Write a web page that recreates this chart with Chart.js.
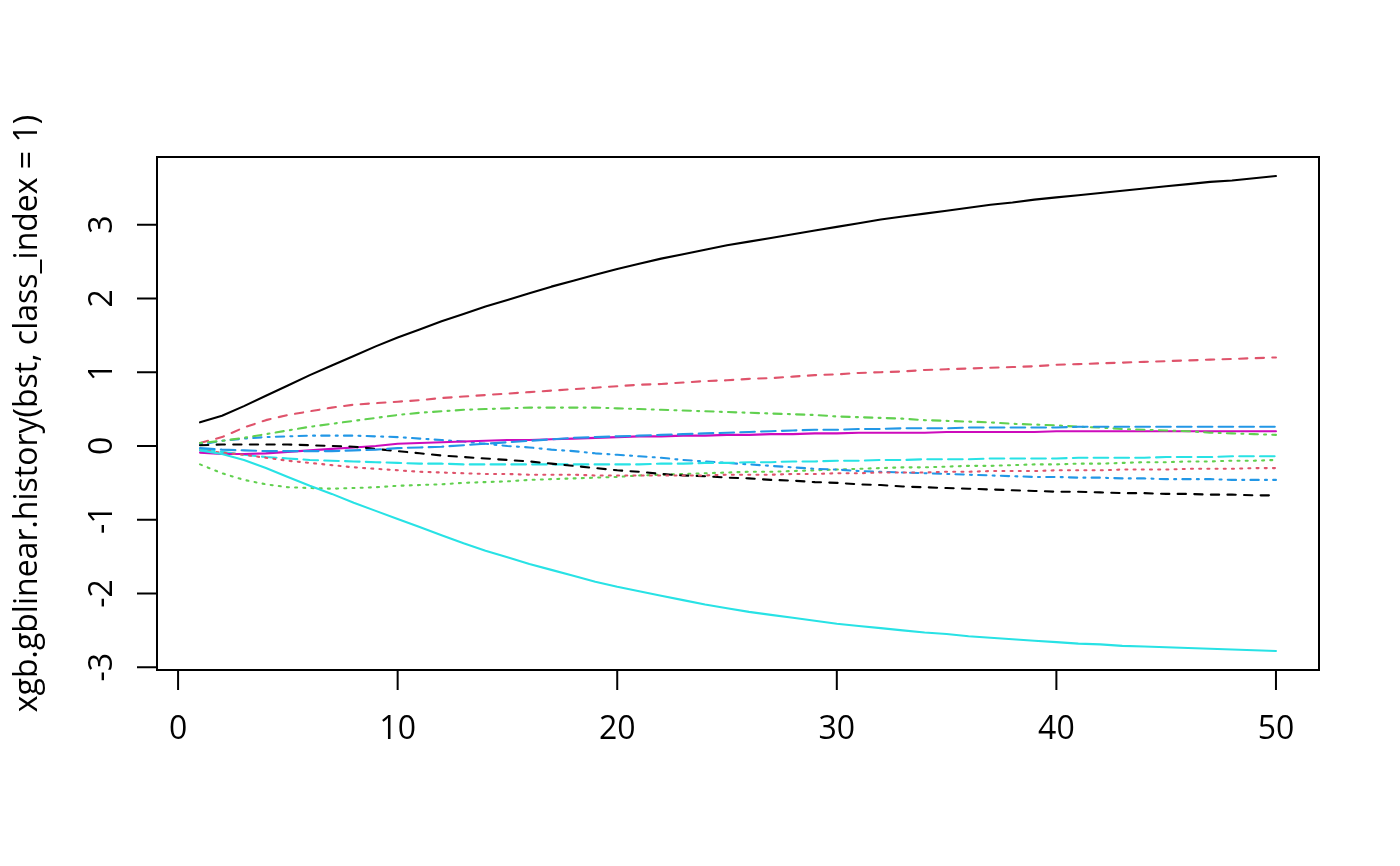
<!DOCTYPE html>
<html>
<head>
<meta charset="utf-8">
<script src="https://cdn.jsdelivr.net/npm/chart.js@4.4.1/dist/chart.umd.min.js"></script>
<style>
  html, body { margin: 0; padding: 0; background: #ffffff; }
  canvas { display: block; }
</style>
</head>
<body>
<canvas id="historyChart" width="1400" height="866"></canvas>
<script>
// boosting iteration
const iterations = [1,2,3,4,5,6,7,8,9,10,11,12,13,14,15,16,17,18,19,20,21,22,23,24,25,
    26,27,28,29,30,31,32,33,34,35,36,37,38,39,40,41,42,43,44,45,46,47,48,49,50];

// coefficient paths, one column of the history matrix each
const coef01 = [0.32,0.41,0.54,0.68,0.82,0.96,1.09,1.22,1.35,1.47,1.58,1.69,1.79,1.89,1.98,2.07,2.16,2.24,2.32,2.40,
    2.47,2.54,2.60,2.66,2.72,2.77,2.82,2.87,2.92,2.97,3.02,3.07,3.11,3.15,3.19,3.23,3.27,3.30,3.34,3.37,
    3.40,3.43,3.46,3.49,3.52,3.55,3.58,3.60,3.63,3.66];
const coef02 = [0.04,0.12,0.25,0.35,0.42,0.47,0.52,0.56,0.58,0.60,0.62,0.65,0.67,0.69,0.71,0.73,0.75,0.77,0.79,0.81,
    0.83,0.84,0.86,0.88,0.89,0.91,0.92,0.94,0.96,0.97,0.99,1.00,1.01,1.03,1.04,1.05,1.06,1.07,1.08,1.10,
    1.11,1.12,1.13,1.14,1.15,1.16,1.17,1.18,1.19,1.20];
const coef03 = [-0.25,-0.37,-0.46,-0.52,-0.56,-0.57,-0.58,-0.57,-0.56,-0.54,-0.53,-0.52,-0.50,-0.49,-0.48,-0.46,-0.45,-0.44,-0.43,-0.42,
    -0.40,-0.39,-0.38,-0.37,-0.36,-0.35,-0.35,-0.34,-0.33,-0.32,-0.31,-0.30,-0.29,-0.29,-0.28,-0.27,-0.27,-0.26,-0.25,-0.25,
    -0.24,-0.24,-0.23,-0.22,-0.22,-0.21,-0.21,-0.20,-0.20,-0.19];
const coef04 = [0.02,0.07,0.10,0.12,0.13,0.14,0.14,0.14,0.13,0.12,0.10,0.08,0.06,0.03,0.00,-0.02,-0.05,-0.07,-0.10,-0.12,
    -0.14,-0.16,-0.19,-0.21,-0.23,-0.25,-0.27,-0.29,-0.31,-0.32,-0.34,-0.35,-0.36,-0.37,-0.38,-0.39,-0.40,-0.41,-0.42,-0.42,
    -0.43,-0.43,-0.44,-0.44,-0.45,-0.45,-0.45,-0.46,-0.46,-0.46];
const coef05 = [-0.04,-0.08,-0.12,-0.15,-0.17,-0.19,-0.20,-0.21,-0.22,-0.23,-0.24,-0.24,-0.25,-0.25,-0.25,-0.25,-0.25,-0.25,-0.25,-0.25,
    -0.25,-0.24,-0.24,-0.23,-0.23,-0.22,-0.22,-0.21,-0.21,-0.20,-0.20,-0.19,-0.19,-0.18,-0.18,-0.18,-0.17,-0.17,-0.17,-0.17,
    -0.16,-0.16,-0.16,-0.16,-0.15,-0.15,-0.15,-0.14,-0.14,-0.14];
const coef06 = [-0.09,-0.11,-0.11,-0.10,-0.08,-0.06,-0.04,-0.02,0.00,0.03,0.04,0.05,0.06,0.07,0.08,0.08,0.09,0.10,0.11,0.12,
    0.13,0.13,0.14,0.14,0.15,0.15,0.16,0.16,0.17,0.17,0.18,0.18,0.18,0.18,0.19,0.19,0.19,0.19,0.19,0.20,
    0.20,0.20,0.20,0.20,0.20,0.20,0.20,0.20,0.20,0.20];
const coef07 = [0.01,0.02,0.02,0.02,0.02,0.01,0.00,-0.01,-0.04,-0.07,-0.10,-0.13,-0.15,-0.17,-0.19,-0.21,-0.24,-0.27,-0.30,-0.33,
    -0.35,-0.38,-0.40,-0.41,-0.43,-0.44,-0.46,-0.47,-0.49,-0.50,-0.52,-0.53,-0.55,-0.56,-0.57,-0.58,-0.59,-0.60,-0.61,-0.62,
    -0.62,-0.63,-0.64,-0.64,-0.65,-0.65,-0.66,-0.66,-0.67,-0.67];
const coef08 = [-0.06,-0.09,-0.12,-0.16,-0.20,-0.23,-0.26,-0.29,-0.31,-0.33,-0.35,-0.36,-0.37,-0.38,-0.38,-0.39,-0.39,-0.39,-0.40,-0.40,
    -0.40,-0.40,-0.40,-0.40,-0.39,-0.39,-0.39,-0.38,-0.38,-0.37,-0.37,-0.36,-0.36,-0.36,-0.35,-0.35,-0.34,-0.34,-0.34,-0.33,
    -0.33,-0.33,-0.32,-0.32,-0.32,-0.31,-0.31,-0.31,-0.30,-0.30];
const coef09 = [0.04,0.07,0.11,0.16,0.21,0.26,0.30,0.34,0.38,0.42,0.45,0.47,0.49,0.50,0.51,0.52,0.52,0.52,0.52,0.51,
    0.50,0.49,0.48,0.47,0.46,0.45,0.44,0.43,0.42,0.40,0.39,0.38,0.37,0.35,0.34,0.33,0.32,0.30,0.29,0.28,
    0.26,0.25,0.23,0.22,0.21,0.20,0.18,0.17,0.16,0.15];
const coef10 = [-0.03,-0.05,-0.06,-0.07,-0.07,-0.07,-0.07,-0.06,-0.05,-0.03,-0.02,-0.01,0.01,0.03,0.05,0.07,0.09,0.11,0.12,0.13,
    0.14,0.15,0.16,0.17,0.18,0.19,0.20,0.21,0.22,0.22,0.23,0.23,0.24,0.24,0.24,0.25,0.25,0.25,0.25,0.25,
    0.26,0.26,0.26,0.26,0.26,0.26,0.26,0.26,0.26,0.26];
const coef11 = [-0.06,-0.11,-0.19,-0.30,-0.42,-0.54,-0.65,-0.77,-0.88,-0.99,-1.10,-1.21,-1.32,-1.42,-1.51,-1.60,-1.68,-1.76,-1.84,-1.91,
    -1.97,-2.03,-2.09,-2.15,-2.20,-2.25,-2.29,-2.33,-2.37,-2.41,-2.44,-2.47,-2.50,-2.53,-2.55,-2.58,-2.60,-2.62,-2.64,-2.66,
    -2.68,-2.69,-2.71,-2.72,-2.73,-2.74,-2.75,-2.76,-2.77,-2.78];

const xTicks = [0, 10, 20, 30, 40, 50];
const yTicks = [-3, -2, -1, 0, 1, 2, 3];
const yTitle = 'xgb.gblinear.history(bst, class_index = 1)';

// matplot defaults: col = 1:6, lty = 1:5, both recycled
const palette = ['#000000', '#DF536B', '#61D04F', '#2297E6', '#28E2E5', '#CD0BBC'];
const lw = 2.1;
const dashes = [[], [8.3, 8.3], [2, 6.2], [2, 6.2, 8.3, 6.2], [14.6, 6.2]];

const columns = [coef01, coef02, coef03, coef04, coef05, coef06, coef07, coef08, coef09, coef10, coef11];

const allValues = columns.flat();
const yMin = Math.min(...allValues), yMax = Math.max(...allValues);
const yPad = (yMax - yMin) * 0.04;
const xPad = (iterations[iterations.length - 1] - iterations[0]) * 0.04;

const datasets = columns.map((col, i) => ({
    data: iterations.map((it, j) => ({ x: it, y: col[j] })),
    borderColor: palette[i % 6],
    borderWidth: lw,
    borderDash: dashes[i % 5],
    borderCapStyle: 'round',
    borderJoinStyle: 'round',
    pointRadius: 0,
    tension: 0,
    fill: false,
    order: columns.length - i
}));

const FONT = '"Open Sans", "Noto Sans", sans-serif';

// R style box, axes and labels drawn through the chart's own scales
const baseAxes = {
    id: 'baseAxes',
    afterDraw(chart) {
        const ctx = chart.ctx;
        const area = chart.chartArea;
        const xs = chart.scales.x, ys = chart.scales.y;
        ctx.save();
        ctx.strokeStyle = '#000';
        ctx.fillStyle = '#000';
        ctx.lineWidth = 2;
        ctx.strokeRect(area.left, area.top, area.right - area.left, area.bottom - area.top);

        ctx.font = '32px ' + FONT;
        ctx.textAlign = 'center';
        ctx.textBaseline = 'alphabetic';

        // x axis
        ctx.beginPath();
        ctx.moveTo(xs.getPixelForValue(xTicks[0]), area.bottom);
        ctx.lineTo(xs.getPixelForValue(xTicks[xTicks.length - 1]), area.bottom);
        xTicks.forEach(t => {
            const px = xs.getPixelForValue(t);
            ctx.moveTo(px, area.bottom);
            ctx.lineTo(px, area.bottom + 20);
        });
        ctx.stroke();
        xTicks.forEach(t => {
            ctx.fillText(String(t), xs.getPixelForValue(t), 739);
        });

        // y axis
        ctx.beginPath();
        ctx.moveTo(area.left, ys.getPixelForValue(yTicks[0]));
        ctx.lineTo(area.left, ys.getPixelForValue(yTicks[yTicks.length - 1]));
        yTicks.forEach(t => {
            const py = ys.getPixelForValue(t);
            ctx.moveTo(area.left, py);
            ctx.lineTo(area.left - 20, py);
        });
        ctx.stroke();
        yTicks.forEach(t => {
            ctx.save();
            ctx.translate(112, ys.getPixelForValue(t));
            ctx.rotate(-Math.PI / 2);
            ctx.fillText(String(t), 0, 0);
            ctx.restore();
        });

        // y title
        ctx.save();
        ctx.translate(37, (area.top + area.bottom) / 2);
        ctx.rotate(-Math.PI / 2);
        ctx.fillText(yTitle, 0, 0);
        ctx.restore();

        ctx.restore();
    }
};

new Chart(document.getElementById('historyChart').getContext('2d'), {
    type: 'line',
    data: { datasets: datasets },
    options: {
        responsive: false,
        animation: false,
        devicePixelRatio: 1,
        layout: { padding: { left: 157, right: 81, top: 157, bottom: 196 } },
        scales: {
            x: { type: 'linear', display: false, min: iterations[0] - xPad, max: iterations[iterations.length - 1] + xPad },
            y: { type: 'linear', display: false, min: yMin - yPad, max: yMax + yPad }
        },
        plugins: { legend: { display: false }, tooltip: { enabled: false } }
    },
    plugins: [baseAxes]
});
</script>
</body>
</html>
